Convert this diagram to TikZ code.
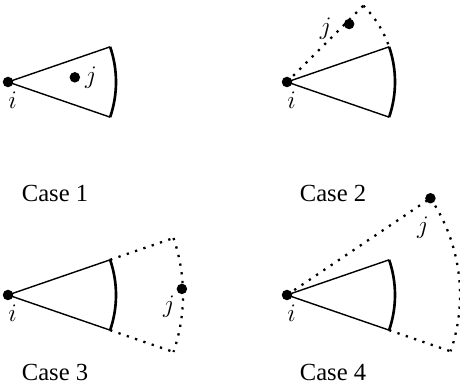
\documentclass[tikz,border=0pt]{standalone}
\usepackage{fontspec}
\setmainfont{Liberation Serif}
\usetikzlibrary{positioning}
\tikzset{
  vertex/.style={circle, fill, inner sep=0pt, minimum size=0.21cm},
  edge/.style={line width=0.8pt},
  rim/.style={line width=1.5pt},
  hidden/.style={line width=1.3pt, dash pattern=on 1.3pt off 3.7pt},
  caselabel/.style={font=\fontsize{14}{16}\selectfont},
  vlabel/.style={font=\fontsize{14}{16}\selectfont, inner sep=1pt}
}

\begin{document}
\begin{tikzpicture}[x=0.02cm, y=0.02cm]
\useasboundingbox (0,0) rectangle (460,384);

% -- Case 1: j inside the sector ----------------------------------------------
\begin{scope}[shift={(8,302)}]
  \node[vertex] (i1) at (0,0) {};
  \coordinate (u1) at (19:108);
  \coordinate (l1) at (-19:108);
  \node[vertex] (j1) at (4:67) {};
  \draw[edge] (i1.center) -- (u1);
  \draw[edge] (i1.center) -- (l1);
  \draw[rim] (u1) arc[start angle=19, end angle=-19, radius=108];
  \node[vlabel, below=0.05cm of i1, xshift=0.09cm] (i1lab) {$i$};
  \node[vlabel, right=0.05cm of j1] (j1lab) {$j$};
\end{scope}
\node[caselabel] (c1) at (55,191) {Case 1};

% -- Case 2: j beside the sector -----------------------------------------------
\begin{scope}[shift={(287,302)}]
  \node[vertex] (i2) at (0,0) {};
  \coordinate (u2) at (19:108);
  \coordinate (l2) at (-19:108);
  \coordinate (t2) at (45:108);
  \node[vertex] (j2) at (43:85) {};
  \draw[edge] (i2.center) -- (u2);
  \draw[edge] (i2.center) -- (l2);
  \draw[rim] (u2) arc[start angle=19, end angle=-19, radius=108];
  \draw[hidden] (i2.center) -- (t2);
  \draw[hidden] (t2) arc[start angle=45, end angle=19, radius=108];
  \node[vlabel, below=0.05cm of i2, xshift=0.09cm] (i2lab) {$i$};
  \node[vlabel, left=0.2cm of j2, yshift=-0.1cm] (j2lab) {$j$};
\end{scope}
\node[caselabel] (c2) at (333,191) {Case 2};

% -- Case 3: j beyond the sector -----------------------------------------------
\begin{scope}[shift={(8,89)}]
  \node[vertex] (i3) at (0,0) {};
  \coordinate (u3) at (19:108);
  \coordinate (l3) at (-19:108);
  \coordinate (uo3) at (19:175);
  \coordinate (lo3) at (-19:175);
  \node[vertex] (j3) at (2:174) {};
  \draw[edge] (i3.center) -- (u3);
  \draw[edge] (i3.center) -- (l3);
  \draw[rim] (u3) arc[start angle=19, end angle=-19, radius=108];
  \draw[hidden] (u3) -- (uo3);
  \draw[hidden] (l3) -- (lo3);
  \draw[hidden] (uo3) arc[start angle=19, end angle=-19, radius=175];
  \node[vlabel, below=0.05cm of i3, xshift=0.09cm] (i3lab) {$i$};
  \node[vlabel, below left=0.02cm and 0.02cm of j3] (j3lab) {$j$};
\end{scope}
\node[caselabel] (c3) at (55,12) {Case 3};

% -- Case 4: j beyond and beside -----------------------------------------------
\begin{scope}[shift={(287,89)}]
  \node[vertex] (i4) at (0,0) {};
  \coordinate (u4) at (19:108);
  \coordinate (l4) at (-19:108);
  \coordinate (lo4) at (-19:173);
  \node[vertex] (j4) at (34:173) {};
  \draw[edge] (i4.center) -- (u4);
  \draw[edge] (i4.center) -- (l4);
  \draw[rim] (u4) arc[start angle=19, end angle=-19, radius=108];
  \draw[hidden] (i4.center) -- (j4.center);
  \draw[hidden] (j4.center) arc[start angle=34, end angle=-19, radius=173];
  \draw[hidden] (l4) -- (lo4);
  \node[vlabel, below=0.05cm of i4, xshift=0.09cm] (i4lab) {$i$};
  \node[vlabel, below=0.22cm of j4, xshift=-0.15cm] (j4lab) {$j$};
\end{scope}
\node[caselabel] (c4) at (333,12) {Case 4};

\end{tikzpicture}
\end{document}
